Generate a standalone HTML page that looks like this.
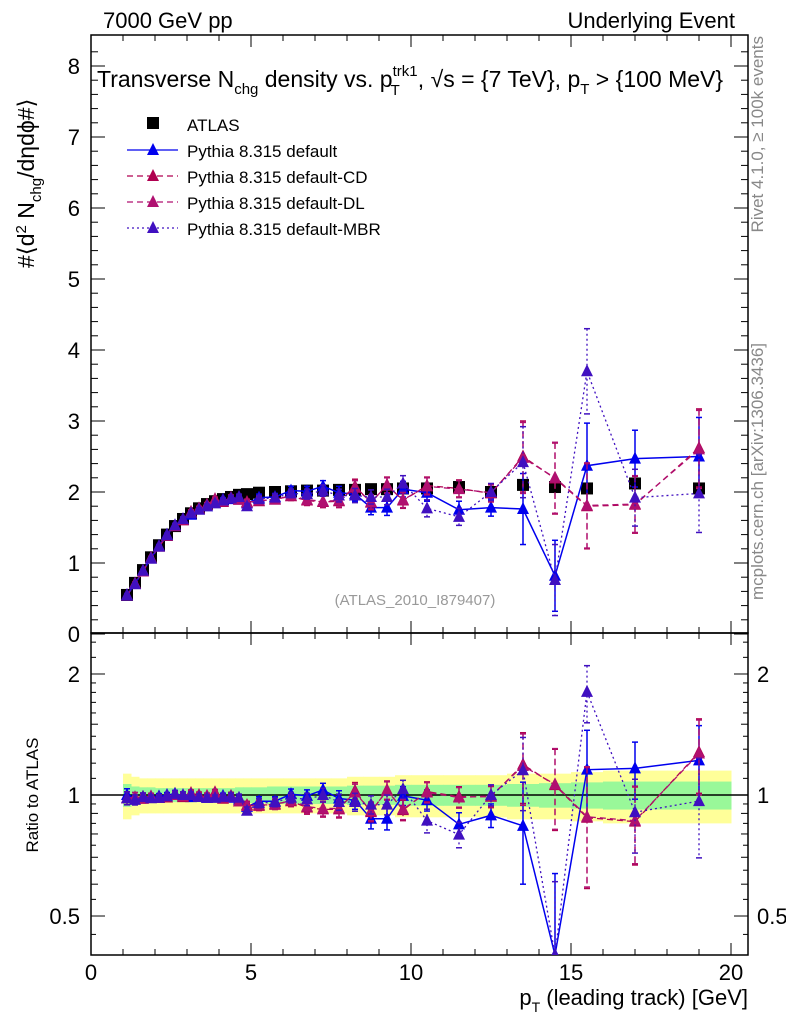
<!DOCTYPE html>
<html><head><meta charset="utf-8"><style>
html,body{margin:0;padding:0;background:#fff;overflow:hidden;width:786px;height:1024px}
svg{display:block}
text{font-family:"Liberation Sans Narrow","Liberation Sans",sans-serif}
</style></head><body>
<svg id="c" width="786" height="1024" xmlns="http://www.w3.org/2000/svg"></svg>
<script>
const xs=[1.125,1.375,1.625,1.875,2.125,2.375,2.625,2.875,3.125,3.375,3.625,3.875,4.125,4.375,4.625,4.875,5.25,5.75,6.25,6.75,7.25,7.75,8.25,8.75,9.25,9.75,10.5,11.5,12.5,13.5,14.5,15.5,17,19];
const binEdges=[1,1.25,1.5,1.75,2,2.25,2.5,2.75,3,3.25,3.5,3.75,4,4.25,4.5,4.75,5,5.5,6,6.5,7,7.5,8,8.5,9,9.5,10,11,12,13,14,15,16,18,20];
const atlas=[0.55,0.72,0.90,1.08,1.25,1.40,1.52,1.62,1.70,1.77,1.83,1.87,1.90,1.93,1.96,1.97,1.99,2.00,2.01,2.02,2.02,2.03,2.03,2.04,2.04,2.05,2.05,2.07,2.00,2.10,2.07,2.05,2.12,2.05];
const pDefault=[0.55,0.71,0.89,1.07,1.24,1.40,1.53,1.61,1.68,1.76,1.80,1.85,1.89,1.90,1.91,1.84,1.92,1.93,2.02,2.01,2.08,1.99,1.97,1.78,1.78,2.04,1.99,1.75,1.78,1.76,0.82,2.37,2.47,2.50];
const pCD=[0.54,0.71,0.89,1.07,1.23,1.38,1.52,1.60,1.72,1.77,1.82,1.90,1.86,1.92,1.89,1.86,1.87,1.90,1.94,1.88,1.86,1.87,2.08,1.85,2.10,1.88,2.09,2.05,1.98,2.50,2.19,1.80,1.82,2.62];
const pDL=[0.54,0.71,0.88,1.07,1.23,1.39,1.52,1.61,1.71,1.76,1.82,1.89,1.87,1.91,1.89,1.85,1.88,1.89,1.95,1.89,1.87,1.88,2.06,1.86,2.09,1.89,2.08,2.04,1.99,2.48,2.20,1.81,1.83,2.60];
const pMBR=[0.54,0.70,0.89,1.06,1.23,1.39,1.53,1.62,1.70,1.75,1.80,1.84,1.88,1.91,1.93,1.80,1.90,1.92,1.98,1.97,2.02,1.95,1.95,1.93,1.93,2.12,1.77,1.65,2.00,2.42,0.76,3.70,1.92,1.98];
const mcErr=[0.02,0.02,0.02,0.02,0.02,0.02,0.03,0.03,0.03,0.03,0.03,0.03,0.03,0.04,0.04,0.04,0.05,0.05,0.06,0.07,0.08,0.09,0.1,0.1,0.11,0.11,0.12,0.12,0.12,0.5,0.5,0.6,0.4,0.55];
const yellowHalf=[0.13,0.11,0.1,0.1,0.1,0.1,0.1,0.1,0.1,0.1,0.1,0.1,0.1,0.1,0.1,0.1,0.1,0.1,0.1,0.1,0.1,0.1,0.11,0.11,0.11,0.12,0.12,0.12,0.12,0.13,0.13,0.14,0.15,0.15];
const greenHalf=[0.065,0.05,0.045,0.045,0.04,0.04,0.04,0.04,0.04,0.04,0.04,0.04,0.04,0.04,0.045,0.045,0.045,0.05,0.05,0.05,0.05,0.05,0.055,0.055,0.055,0.06,0.06,0.06,0.06,0.065,0.07,0.075,0.08,0.08];
const yTicksMain=[0,1,2,3,4,5,6,7,8];
const xTicks=[0,5,10,15,20];

const NS="http://www.w3.org/2000/svg",svg=document.getElementById('c');
const L=91,R=748,T=35,MB=633,RB=955;
const X=v=>L+v*32;
const clamp=(y,a,b)=>Math.min(b,Math.max(a,y));
const Ym=v=>clamp(634-v*71,T,MB+1);
const Yr=r=>clamp(795-402*Math.log10(Math.max(r,0.01)),MB,RB);
function mk(tag,at,parent){const e=document.createElementNS(NS,tag);for(const k in at)e.setAttribute(k,at[k]);(parent||svg).appendChild(e);return e;}
function txt(s,x,y,size,anchor,fill,parent){const e=mk('text',{x:x,y:y,'font-size':size,'text-anchor':anchor||'start',fill:fill||'#000'},parent);e.textContent=s;return e;}

const defs=mk('defs',{});
const c1=mk('clipPath',{id:'cm'},defs);mk('rect',{x:L,y:T,width:R-L,height:MB-T},c1);
const c2=mk('clipPath',{id:'cr'},defs);mk('rect',{x:L,y:MB,width:R-L,height:RB-MB},c2);

const bands=mk('g',{'clip-path':'url(#cr)'});


xs.forEach((v,i)=>{
 const x0=X(binEdges[i]),x1=X(binEdges[i+1]);
 const y=mk('rect',{x:x0,y:Yr(1+yellowHalf[i]),width:x1-x0+0.5,height:Yr(1-yellowHalf[i])-Yr(1+yellowHalf[i]),fill:'#ffff99'},bands);
 
 
});
xs.forEach((v,i)=>{
 const x0=X(binEdges[i]),x1=X(binEdges[i+1]);
 const g=mk('rect',{x:x0,y:Yr(1+greenHalf[i]),width:x1-x0+0.5,height:Yr(1-greenHalf[i])-Yr(1+greenHalf[i]),fill:'#99f899'},bands);
 
 
});
const one=mk('line',{x1:L,x2:R,y1:Yr(1),y2:Yr(1),stroke:'#000','stroke-width':1.5});



function frame(y0,y1,name){const f=mk('rect',{x:L,y:y0,width:R-L,height:y1-y0,fill:'none',stroke:'#000','stroke-width':1.5});}
frame(T,MB,'main-plot-frame');frame(MB,RB,'ratio-plot-frame');
const ax=mk('g',{stroke:'#000','stroke-width':1});
for(let v=0;v<=20.01;v+=1){const big=v%5===0;const len=big?12:6;
 [[MB,-1],[RB,-1],[T,1],[MB,1]].forEach(([y,d])=>mk('line',{x1:X(v),x2:X(v),y1:y,y2:y+d*len},ax));}
for(let v=0;v<=8.4;v+=0.2){const big=Math.abs(v-Math.round(v))<1e-6;const len=big?14:7;
 mk('line',{x1:L,x2:L+len,y1:Ym(v),y2:Ym(v)},ax);mk('line',{x1:R,x2:R-len,y1:Ym(v),y2:Ym(v)},ax);}
[0.5,0.6,0.7,0.8,0.9,1,1.5,2].forEach(r=>{const big=[0.5,1,2].includes(r);const len=big?14:7;
 mk('line',{x1:L,x2:L+len,y1:Yr(r),y2:Yr(r)},ax);mk('line',{x1:R,x2:R-len,y1:Yr(r),y2:Yr(r)},ax);});
[0.45,0.55,0.65,0.75,0.85,0.95,1.1,1.2,1.3,1.4,1.6,1.7,1.8,1.9,2.2,2.4].forEach(r=>{mk('line',{x1:L,x2:L+5,y1:Yr(r),y2:Yr(r)},ax);mk('line',{x1:R,x2:R-5,y1:Yr(r),y2:Yr(r)},ax);});
yTicksMain.forEach(v=>{const t=txt(String(v),80,Ym(v)+8,22,'end');});
[[0.5,'0.5'],[1,'1'],[2,'2']].forEach(([r,s])=>{const a=txt(s,80,Yr(r)+8,22,'end');
 const b=txt(s,757,Yr(r)+8,22,'start');});
xTicks.forEach(v=>{const t=txt(String(v),X(v),980,22,'middle');});

const series=[
 {name:'pythia-default',d:pDefault,c:'#0000ee',dash:'',w:1.5},
 {name:'pythia-default-cd',d:pCD,c:'#b00050',dash:'6,4',w:1.3},
 {name:'pythia-default-dl',d:pDL,c:'#b01070',dash:'6,4',w:1.3},
 {name:'pythia-default-mbr',d:pMBR,c:'#4010c0',dash:'2,3',w:1.3}];
function tri(g,x,y,c){const p=mk('path',{d:`M${x-6},${y+5}L${x+6},${y+5}L${x},${y-7}Z`,fill:c},g);return p;}
function drawPanel(clip,Yf,ratio){
 if(!ratio){const ga=mk('g',{'clip-path':clip});
  
  
  xs.forEach((v,i)=>{const r=mk('rect',{x:X(v)-6,y:Yf(atlas[i])-6,width:12,height:12,fill:'#000'},ga);
   
   });}
 series.forEach(s=>{
  const g=mk('g',{'clip-path':clip});
  
  
  const val=i=>ratio?s.d[i]/atlas[i]:s.d[i];
  const er=i=>ratio?mcErr[i]/atlas[i]:mcErr[i];
  const pts=xs.map((v,i)=>X(v)+','+Yf(val(i))).join(' ');
  const pl=mk('polyline',{points:pts,fill:'none',stroke:s.c,'stroke-width':s.w,'stroke-dasharray':s.dash},g);
  
  
  xs.forEach((v,i)=>{const x=X(v),hi=Yf(val(i)+er(i)),lo=Yf(Math.max(val(i)-er(i),0.05));
   mk('line',{x1:x,x2:x,y1:hi,y2:lo,stroke:s.c,'stroke-width':s.w,'stroke-dasharray':s.dash},g);
   mk('line',{x1:x-3,x2:x+3,y1:hi,y2:hi,stroke:s.c,'stroke-width':1.5},g);
   mk('line',{x1:x-3,x2:x+3,y1:lo,y2:lo,stroke:s.c,'stroke-width':1.5},g);
   const p=tri(g,x,Yf(val(i)),s.c);
   
   });
 });
}
drawPanel('url(#cm)',Ym,false);
drawPanel('url(#cr)',Yr,true);

let t;
t=txt('7000 GeV pp',103,28,22);
t=txt('Underlying Event',735,28,22,'end');
const title=mk('text',{x:97,y:87,'font-size':23});


title.innerHTML='Transverse N<tspan font-size="15" dy="7">chg</tspan><tspan dy="-7"> density vs. p</tspan><tspan font-size="15" dy="-11">trk1</tspan><tspan font-size="15" dx="-27" dy="19">T</tspan><tspan dx="18" dy="-8">, √s = {7 TeV}, p</tspan><tspan font-size="15" dy="7">T</tspan><tspan dy="-7"> &gt; {100 MeV}</tspan>';
t=txt('(ATLAS_2010_I879407)',415,605,15,'middle','#999');
const yl=mk('text',{transform:'translate(34,268) rotate(-90)','font-size':23});


yl.innerHTML='#⟨d<tspan font-size="15" dy="-8">2</tspan><tspan dy="8"> N</tspan><tspan font-size="15" dy="7">chg</tspan><tspan dy="-7">/dηdϕ#⟩</tspan>';
t=txt('Ratio to ATLAS',0,0,17,'middle');t.setAttribute('transform','translate(38,795) rotate(-90)');
const xl=mk('text',{x:748,y:1005,'font-size':22,'text-anchor':'end'});


xl.innerHTML='p<tspan font-size="14" dy="7">T</tspan><tspan dy="-7"> (leading track) [GeV]</tspan>';
t=txt('Rivet 4.1.0, ≥ 100k events',0,0,17,'end','#888');t.setAttribute('transform','translate(763,36) rotate(-90)');
t=txt('mcplots.cern.ch [arXiv:1306.3436]',0,0,17,'end','#888');t.setAttribute('transform','translate(763,343) rotate(-90)');

const leg=mk('g',{});


mk('rect',{x:147,y:117,width:12,height:12,fill:'#000'},leg);
t=txt('ATLAS',187,131,17,'start','#000',leg);
const labels=['Pythia 8.315 default','Pythia 8.315 default-CD','Pythia 8.315 default-DL','Pythia 8.315 default-MBR'];
series.forEach((s,i)=>{const y=150+i*26;
 mk('line',{x1:127,x2:178,y1:y,y2:y,stroke:s.c,'stroke-width':1.3,'stroke-dasharray':s.dash},leg);
 tri(leg,153,y,s.c);
 const e=txt(labels[i],187,y+7,17,'start','#000',leg);
 
 });
</script>
</body></html>
